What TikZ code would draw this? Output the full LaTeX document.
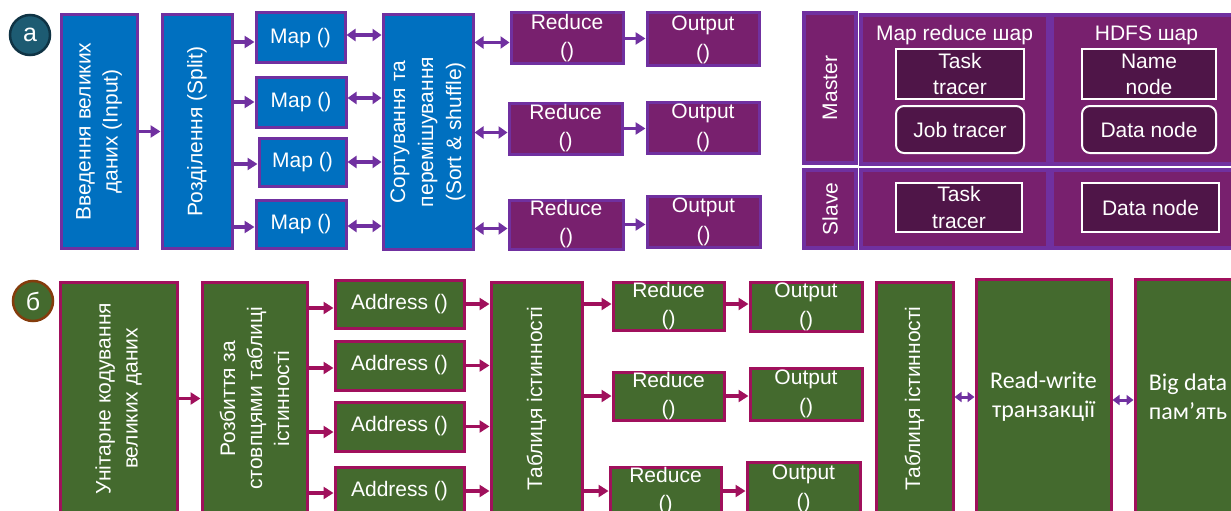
\documentclass[tikz,border=0pt]{standalone}
\usepackage{fontspec}
\setmainfont{Liberation Sans}
\newfontfamily\calfont{Carlito}
\usetikzlibrary{arrows.meta,calc}
\definecolor{tblue}{HTML}{0070C0}
\definecolor{tviol}{HTML}{7030A0}
\definecolor{tplum}{HTML}{78206E}
\definecolor{tdark}{HTML}{4F1548}
\definecolor{bgreen}{HTML}{446A2E}
\definecolor{bmag}{HTML}{A0105C}
\definecolor{cteal}{HTML}{1D5B72}
\definecolor{ctealdk}{HTML}{0F3344}
\definecolor{cbrown}{HTML}{843C0C}
\newcommand\dfont{\fontsize{21}{27}\selectfont}
\newcommand\cfont{\calfont\fontsize{24}{29}\selectfont}
\tikzset{
  bluebox/.style={draw=tviol, line width=3pt, fill=tblue, text=white, inner sep=0pt, font=\dfont, align=center},
  plumbox/.style={draw=tviol, line width=3pt, fill=tplum, text=white, inner sep=0pt, font=\dfont, align=center},
  panelbox/.style={draw=tviol, line width=4pt, fill=tplum, text=white, inner sep=0pt, font=\dfont, align=center},
  innerbox/.style={draw=white, line width=2pt, fill=tdark, text=white, inner sep=0pt, font=\dfont, align=center},
  greenbox/.style={draw=bmag, line width=3pt, fill=bgreen, text=white, inner sep=0pt, font=\dfont, align=center},
  tarr/.style={-{Triangle[length=10pt,width=12pt]}, line width=3.5pt, draw=tviol, fill=tviol},
  tdarr/.style={{Triangle[length=9pt,width=12pt]}-{Triangle[length=9pt,width=12pt]}, line width=3.5pt, draw=tviol, fill=tviol},
  barr/.style={-{Triangle[length=10pt,width=12pt]}, line width=3.5pt, draw=bmag, fill=bmag},
  bdarr/.style={{Triangle[length=7pt,width=10pt]}-{Triangle[length=7pt,width=10pt]}, line width=3pt, draw=tviol, fill=tviol},
  lettercirc/.style={circle, line width=2.5pt, minimum size=40pt, inner sep=0pt, text=white, font=\fontsize{25}{25}\selectfont}
}
\begin{document}
\begin{tikzpicture}[x=1pt,y=-1pt]
\path[use as bounding box, clip] (0,0) rectangle (1231,511);
\fill[white] (0,0) rectangle (1231,511);

% ---------- part a ----------
\node[lettercirc, fill=cteal, draw=ctealdk] (ca) at (30,35) {а};

\node[bluebox, rotate=90, minimum width=233pt, minimum height=76pt] (inp) at (99,131.5) {Введення великих\\даних (Input)};
\node[bluebox, rotate=90, minimum width=233pt, minimum height=70pt] (spl) at (197,131.5) {Розділення (Split)};

\node[bluebox, minimum width=89pt, minimum height=50pt] (map1) at (300.5,38) {Map ()};
\node[bluebox, minimum width=90pt, minimum height=50pt] (map2) at (301,102) {Map ()};
\node[bluebox, minimum width=87pt, minimum height=48pt] (map3) at (302.5,162) {Map ()};
\node[bluebox, minimum width=90pt, minimum height=48pt] (map4) at (301,224) {Map ()};

\node[bluebox, rotate=90, minimum width=234pt, minimum height=90pt, font=\fontsize{21}{28}\selectfont] (sort) at (428,132) {Сортування та\\перемішування\\(Sort \& shuffle)};

\node[plumbox, minimum width=112pt, minimum height=51pt, font=\fontsize{21}{28}\selectfont] (red1) at (567,38.5) {Reduce\\()};
\node[plumbox, minimum width=113pt, minimum height=51pt, font=\fontsize{21}{28}\selectfont] (red2) at (565.5,128.5) {Reduce\\()};
\node[plumbox, minimum width=114pt, minimum height=49pt, font=\fontsize{21}{28}\selectfont] (red3) at (566,224.5) {Reduce\\()};

\node[plumbox, minimum width=112pt, minimum height=53pt, font=\fontsize{21}{29}\selectfont] (out1) at (703,39.5) {Output\\()};
\node[plumbox, minimum width=112pt, minimum height=51pt, font=\fontsize{21}{29}\selectfont] (out2) at (703,127.5) {Output\\()};
\node[plumbox, minimum width=113pt, minimum height=51pt, font=\fontsize{21}{29}\selectfont] (out3) at (703.5,221.5) {Output\\()};

\draw[tarr] (inp.south) -- (spl.north);
\draw[tarr] ($(spl.south |- map1.west)+(0,4)$) -- ($(map1.west)+(0,4)$);
\draw[tarr] (spl.south |- map2.west) -- (map2.west);
\draw[tarr] ($(spl.south |- map3.west)+(0,2)$) -- ($(map3.west)+(0,2)$);
\draw[tarr] ($(spl.south |- map4.west)+(0,3)$) -- ($(map4.west)+(0,3)$);

\draw[tdarr] ($(map1.east)+(0,-3)$) -- ($(sort.north |- map1.east)+(0,-3)$);
\draw[tdarr] ($(map2.east)+(0,-4)$) -- ($(sort.north |- map2.east)+(0,-4)$);
\draw[tdarr] (map3.east) -- (sort.north |- map3.east);
\draw[tdarr] ($(map4.east)+(0,2)$) -- ($(sort.north |- map4.east)+(0,2)$);

\draw[tdarr] ($(sort.south |- red1.west)+(0,4)$) -- ($(red1.west)+(0,4)$);
\draw[tdarr] ($(sort.south |- red2.west)+(0,4)$) -- ($(red2.west)+(0,4)$);
\draw[tdarr] ($(sort.south |- red3.west)+(0,4)$) -- ($(red3.west)+(0,4)$);

\draw[tarr] (red1.east) -- (out1.west |- red1.east);
\draw[tarr] (red2.east) -- (out2.west |- red2.east);
\draw[tarr] (red3.east) -- (out3.west |- red3.east);

% ---------- right panel ----------
\node[panelbox, rotate=90, minimum width=150pt, minimum height=52pt] (master) at (830,88) {Master};
\node[panelbox, rotate=90, minimum width=78pt, minimum height=52pt] (slave) at (830,209) {Slave};
\node[panelbox, minimum width=187pt, minimum height=149pt] (mrm) at (954.5,89.5) {};
\node[panelbox, minimum width=189pt, minimum height=149pt] (hdm) at (1146.5,89.5) {};
\node[panelbox, minimum width=187pt, minimum height=78pt] (mrs) at (954.5,209) {};
\node[panelbox, minimum width=189pt, minimum height=78pt] (hds) at (1146.5,209) {};
\node[text=white, font=\dfont, inner sep=0pt] (mrlab) at (954.5,35) {Map reduce шар};
\node[text=white, font=\dfont, inner sep=0pt] (hdlab) at (1146.5,35) {HDFS шар};

\node[innerbox, minimum width=128pt, minimum height=50pt, font=\fontsize{21}{26}\selectfont] (tt1) at (960,74) {Task\\tracer};
\node[innerbox, rounded corners=8pt, minimum width=128pt, minimum height=47pt] (jt) at (960,129.5) {Job tracer};
\node[innerbox, minimum width=134pt, minimum height=50pt, font=\fontsize{21}{26}\selectfont] (nn) at (1149,74) {Name\\node};
\node[innerbox, rounded corners=8pt, minimum width=134pt, minimum height=47pt] (dn1) at (1149,129.5) {Data node};
\node[innerbox, minimum width=126pt, minimum height=49pt, font=\fontsize{21}{27}\selectfont] (tt2) at (959,207.5) {Task\\tracer};
\node[innerbox, minimum width=137pt, minimum height=49pt] (dn2) at (1150.5,207.5) {Data node};

% ---------- part b ----------
\node[lettercirc, fill=bgreen, draw=cbrown] (cb) at (33,301) {б};

\node[greenbox, rotate=90, minimum width=233pt, minimum height=117pt] (uni) at (118.5,398.5) {Унітарне кодування\\великих даних};
\node[greenbox, rotate=90, minimum width=233pt, minimum height=105pt, font=\fontsize{21}{27}\selectfont] (rsp) at (254.5,398.5) {Розбиття за\\стовпцями таблиці\\істинності};

\node[greenbox, minimum width=129pt, minimum height=48pt] (ad1) at (399.5,304) {Address ()};
\node[greenbox, minimum width=129pt, minimum height=49pt] (ad2) at (399.5,365.5) {Address ()};
\node[greenbox, minimum width=129pt, minimum height=49pt] (ad3) at (399.5,426.5) {Address ()};
\node[greenbox, minimum width=129pt, minimum height=48pt] (ad4) at (399.5,491) {Address ()};

\node[greenbox, rotate=90, minimum width=233pt, minimum height=91pt] (tbl) at (536.5,398.5) {Таблиця істинності};

\node[greenbox, minimum width=111pt, minimum height=48pt, font=\fontsize{21}{28}\selectfont] (br1) at (668.5,306) {Reduce\\()};
\node[greenbox, minimum width=111pt, minimum height=48pt, font=\fontsize{21}{28}\selectfont] (br2) at (668.5,396) {Reduce\\()};
\node[greenbox, minimum width=111pt, minimum height=48pt, font=\fontsize{21}{28}\selectfont] (br3) at (665.5,491) {Reduce\\()};

\node[greenbox, minimum width=112pt, minimum height=49pt, font=\fontsize{21}{29}\selectfont] (bo1) at (806,306.5) {Output\\()};
\node[greenbox, minimum width=112pt, minimum height=52pt, font=\fontsize{21}{29}\selectfont] (bo2) at (806,394) {Output\\()};
\node[greenbox, minimum width=113pt, minimum height=53pt, font=\fontsize{21}{29}\selectfont] (bo3) at (803.5,488.5) {Output\\()};

\node[greenbox, rotate=90, minimum width=233pt, minimum height=77pt] (tbl2) at (914.5,398.5) {Таблиця істинності};
\node[greenbox, minimum width=135pt, minimum height=236pt, font=\cfont] (rw) at (1043.5,397) {Read-write\\транзакції};
\node[greenbox, minimum width=106pt, minimum height=236pt, font=\cfont] (bd) at (1188,397) {Big data\\пам’ять};

\draw[barr] (uni.south) -- (rsp.north);
\draw[barr] ($(rsp.south |- ad1.west)+(0,4)$) -- ($(ad1.west)+(0,4)$);
\draw[barr] ($(rsp.south |- ad2.west)+(0,2.5)$) -- ($(ad2.west)+(0,2.5)$);
\draw[barr] ($(rsp.south |- ad3.west)+(0,5.5)$) -- ($(ad3.west)+(0,5.5)$);
\draw[barr] ($(rsp.south |- ad4.west)+(0,2)$) -- ($(ad4.west)+(0,2)$);

\draw[barr] (ad1.east) -- (tbl.north |- ad1.east);
\draw[barr] (ad2.east) -- (tbl.north |- ad2.east);
\draw[barr] (ad3.east) -- (tbl.north |- ad3.east);
\draw[barr] (ad4.east) -- (tbl.north |- ad4.east);

\draw[barr] ($(tbl.south |- br1.west)+(0,-2)$) -- ($(br1.west)+(0,-2)$);
\draw[barr] (tbl.south |- br2.west) -- (br2.west);
\draw[barr] (tbl.south |- br3.west) -- (br3.west);

\draw[barr] ($(br1.east)+(0,-2)$) -- ($(bo1.west |- br1.east)+(0,-2)$);
\draw[barr] (br2.east) -- (bo2.west |- br2.east);
\draw[barr] (br3.east) -- (bo3.west |- br3.east);

\draw[bdarr] (tbl2.south |- rw.west) -- (rw.west);
\draw[bdarr] ($(rw.east)+(0,3)$) -- ($(bd.west)+(0,3)$);
\end{tikzpicture}
\end{document}
